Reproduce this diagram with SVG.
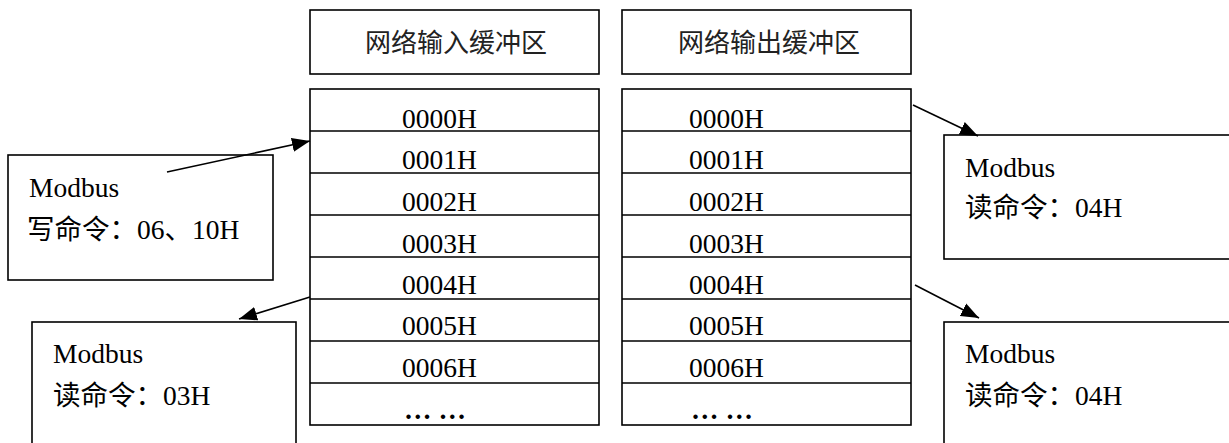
<svg xmlns="http://www.w3.org/2000/svg" width="1229" height="443" viewBox="0 0 1229 443">
<style>
.box{fill:#fff;stroke:#000;stroke-width:1.6}
.ln{stroke:#000;stroke-width:1.6;fill:none}
.t{font-family:"Liberation Serif","Noto Sans CJK SC",serif;font-size:27.5px;fill:#000}
.cn{font-family:"Liberation Serif","Noto Sans CJK SC",serif;font-size:26px;fill:#222}
.mid{text-anchor:middle}
.dots{font-weight:bold}
</style>
<defs>
<marker id="ah" markerUnits="userSpaceOnUse" markerWidth="20" markerHeight="16" refX="18" refY="8" orient="auto">
<path d="M0,1 L18,8 L0,15 Z" fill="#000"/>
</marker>
</defs>
<rect width="1229" height="443" fill="#fff"/>
<g id="hdr-in">
<rect class="box" x="310" y="10" width="289" height="64"/>
<text class="cn mid" x="456" y="52">网络输入缓冲区</text>
</g>
<g id="hdr-out">
<rect class="box" x="622" y="10" width="289" height="64"/>
<text class="cn mid" x="769" y="52">网络输出缓冲区</text>
</g>
<g id="col-in">
<rect class="box" x="310" y="89" width="289" height="336"/>
<path class="ln" d="M310,131H599M310,173H599M310,215H599M310,257H599M310,299H599M310,341H599M310,383H599"/>
<text class="t" x="402" y="128">0000H</text>
<text class="t" x="402" y="169">0001H</text>
<text class="t" x="402" y="211">0002H</text>
<text class="t" x="402" y="253">0003H</text>
<text class="t" x="402" y="294">0004H</text>
<text class="t" x="402" y="335">0005H</text>
<text class="t" x="402" y="377">0006H</text>
<text class="t dots" x="404" y="419">… …</text>
</g>
<g id="col-out">
<rect class="box" x="622" y="89" width="289" height="336"/>
<path class="ln" d="M622,131H911M622,173H911M622,215H911M622,257H911M622,299H911M622,341H911M622,383H911"/>
<text class="t" x="689" y="128">0000H</text>
<text class="t" x="689" y="169">0001H</text>
<text class="t" x="689" y="211">0002H</text>
<text class="t" x="689" y="253">0003H</text>
<text class="t" x="689" y="294">0004H</text>
<text class="t" x="689" y="335">0005H</text>
<text class="t" x="689" y="377">0006H</text>
<text class="t dots" x="691" y="419">… …</text>
</g>
<g id="write-cmd">
<rect class="box" x="8" y="155" width="265" height="125"/>
<text class="t" x="29" y="197">Modbus</text>
<text class="t" x="27" y="239">写命令：06、10H</text>
</g>
<g id="read-03">
<rect class="box" x="32" y="322" width="264" height="140"/>
<text class="t" x="53" y="363">Modbus</text>
<text class="t" x="53" y="405">读命令：03H</text>
</g>
<g id="read-04a">
<rect class="box" x="944" y="135" width="300" height="124"/>
<text class="t" x="965" y="177">Modbus</text>
<text class="t" x="965" y="217">读命令：04H</text>
</g>
<g id="read-04b">
<rect class="box" x="944" y="322" width="300" height="140"/>
<text class="t" x="965" y="363">Modbus</text>
<text class="t" x="965" y="405">读命令：04H</text>
</g>
<g id="connectors">
<line class="ln" x1="167" y1="172" x2="310" y2="141" marker-end="url(#ah)"/>
<line class="ln" x1="310" y1="297" x2="239" y2="319" marker-end="url(#ah)"/>
<line class="ln" x1="913" y1="105" x2="978" y2="136" marker-end="url(#ah)"/>
<line class="ln" x1="915" y1="285" x2="979" y2="318" marker-end="url(#ah)"/>
</g>
</svg>
